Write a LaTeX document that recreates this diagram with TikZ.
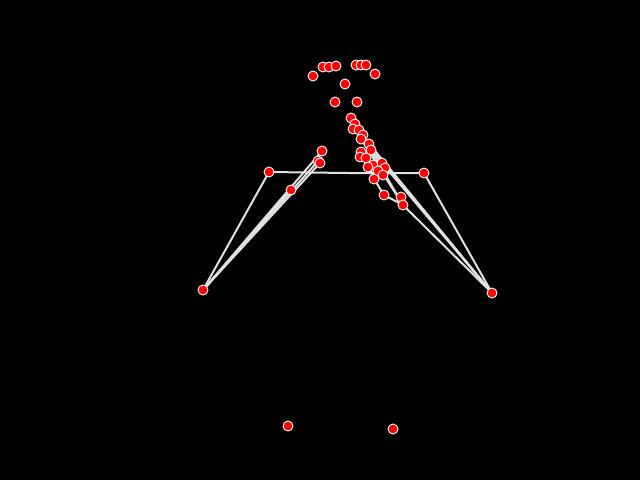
\documentclass[tikz,border=0pt]{standalone}
\begin{document}
\begin{tikzpicture}[x=1pt,y=-1pt,
  vtx/.style={circle,fill=red,draw=white,line width=0.9pt,minimum size=10pt,inner sep=0pt},
  lnk/.style={draw={rgb,255:red,225;green,225;blue,225},line width=2pt}]
\fill[black] (0,0) rectangle (640,480);
\useasboundingbox (0,0) rectangle (640,480);
% coordinates for edges
\coordinate (A) at (269,172);
\coordinate (B) at (424,173);
\coordinate (C) at (203,290);
\coordinate (D) at (492,293);
\coordinate (E) at (291,190);
\coordinate (m) at (348,173);
% edges
\draw[lnk] (A) -- (m) -- (B);
\draw[lnk] (A) -- (C);
\draw[lnk] (B) -- (D);
\draw[lnk] (C) -- (E);
\draw[lnk] (C) -- (322,151);
\draw[lnk] (C) -- (320,163);
\draw[lnk] (C) -- (318,161);
\draw[lnk] (D) -- (403,205);
\draw[lnk] (D) -- (369,144);
\draw[lnk] (D) -- (371,150);
\draw[lnk] (D) -- (366,140);
\draw[lnk] (403,205) -- (359,130);
\draw[lnk] (403,205) -- (361,139);
\draw[lnk] (374,179) -- (384,195) -- (403,205);
\draw[lnk] (366,158) -- (374,179);
% nodes
\node[vtx] (n1) at (A) {};
\node[vtx] (n2) at (B) {};
\node[vtx] (n3) at (C) {};
\node[vtx] (n4) at (D) {};
\node[vtx] (n5) at (E) {};
\node[vtx] (n6) at (288,426) {};
\node[vtx] (n7) at (393,429) {};
\node[vtx] (n8) at (313,76) {};
\node[vtx] (n9) at (323,67) {};
\node[vtx] (n10) at (329,67) {};
\node[vtx] (n11) at (336,66) {};
\node[vtx] (n12) at (356,65) {};
\node[vtx] (n13) at (361,65) {};
\node[vtx] (n14) at (366,65) {};
\node[vtx] (n15) at (375,74) {};
\node[vtx] (n16) at (345,84) {};
\node[vtx] (n17) at (335,102) {};
\node[vtx] (n18) at (357,102) {};
\node[vtx] (n19) at (351,118) {};
\node[vtx] (n20) at (355,124) {};
\node[vtx] (n21) at (353,129) {};
\node[vtx] (n22) at (359,130) {};
\node[vtx] (n23) at (363,135) {};
\node[vtx] (n24) at (361,139) {};
\node[vtx] (n25) at (369,144) {};
\node[vtx] (n26) at (371,150) {};
\node[vtx] (n27) at (361,152) {};
\node[vtx] (n28) at (360,157) {};
\node[vtx] (n29) at (366,158) {};
\node[vtx] (n30) at (373,165) {};
\node[vtx] (n31) at (368,167) {};
\node[vtx] (n32) at (382,163) {};
\node[vtx] (n33) at (385,168) {};
\node[vtx] (n34) at (378,171) {};
\node[vtx] (n35) at (383,175) {};
\node[vtx] (n36) at (374,179) {};
\node[vtx] (n37) at (384,195) {};
\node[vtx] (n38) at (401,197) {};
\node[vtx] (n39) at (403,205) {};
\node[vtx] (n40) at (318,161) {};
\node[vtx] (n41) at (322,151) {};
\node[vtx] (n42) at (320,163) {};
\end{tikzpicture}
\end{document}
